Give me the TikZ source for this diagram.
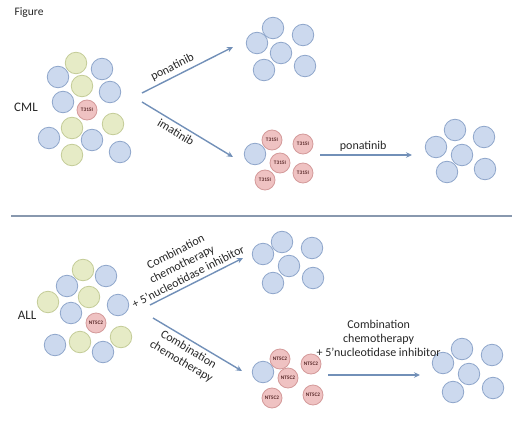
\documentclass[tikz,border=0pt]{standalone}
\usepackage{fontspec}
\setmainfont{Carlito}
\usepackage{tikz}
\usetikzlibrary{arrows.meta}
\usepackage{xcolor}
\definecolor{bfill}{HTML}{CCD9EE}
\definecolor{bline}{HTML}{8FA6CB}
\definecolor{yfill}{HTML}{E6EBC6}
\definecolor{yline}{HTML}{C4CC98}
\definecolor{rfill}{HTML}{EFC2C2}
\definecolor{rline}{HTML}{D49A9A}
\definecolor{rtext}{HTML}{5A2A2A}
\definecolor{arrcol}{HTML}{7290B8}
\definecolor{divcol}{HTML}{8898AE}

\begin{document}
\begin{tikzpicture}[x=1pt, y=-1pt,
  bcell/.style={circle, draw=bline, fill=bfill, line width=0.8pt, minimum size=21.5pt, inner sep=0pt},
  ycell/.style={circle, draw=yline, fill=yfill, line width=0.8pt, minimum size=21.5pt, inner sep=0pt},
  rcell/.style={circle, draw=rline, fill=rfill, line width=0.8pt, minimum size=20pt, inner sep=0pt, font=\fontsize{5.3}{6}\selectfont\bfseries, text=rtext},
  lbl/.style={font=\fontsize{12}{14}\selectfont, align=center, text=black!85},
  arr/.style={-{Stealth[length=6pt, width=5.5pt]}, line width=1.4pt, draw=arrcol},
  div/.style={line width=2pt, draw=divcol}
]
  \useasboundingbox (0,0) rectangle (520,431);
  \node[anchor=west, font=\fontsize{11.5}{13}\selectfont, text=black!85] (fig) at (11,13) {Figure};

  % CML panel
  \node[font=\fontsize{13}{15}\selectfont, text=black!85] (cml) at (26,107) {CML};
  \node[bcell] (c1) at (58,77) {};   \node[ycell] (c2) at (76,63) {};   \node[bcell] (c3) at (102,69) {};
  \node[ycell] (c4) at (82,86) {};   \node[bcell] (c5) at (110,92) {};  \node[bcell] (c6) at (63,102) {};
  \node[rcell] (c7) at (87,110) {T315I};
  \node[ycell] (c8) at (72,128) {};  \node[ycell] (c9) at (113,124) {}; \node[bcell] (c10) at (49,138) {};
  \node[bcell] (c11) at (92,140) {}; \node[ycell] (c12) at (72,155) {}; \node[bcell] (c13) at (120,152) {};

  \node[bcell] (p1) at (257,43) {};  \node[bcell] (p2) at (273,28) {};  \node[bcell] (p3) at (303,35) {};
  \node[bcell] (p4) at (281,53) {};  \node[bcell] (p5) at (264,70) {};  \node[bcell] (p6) at (305,66) {};

  \node[bcell] (m1) at (255,154) {};
  \node[rcell] (m2) at (272,140) {T315I}; \node[rcell] (m3) at (303,144) {T315I};
  \node[rcell] (m4) at (280,163) {T315I}; \node[rcell] (m5) at (265,180) {T315I};
  \node[rcell] (m6) at (303,173) {T315I};

  \node[bcell] (q1) at (436,147) {}; \node[bcell] (q2) at (455,130) {}; \node[bcell] (q3) at (484,137) {};
  \node[bcell] (q4) at (462,155) {}; \node[bcell] (q5) at (447,172) {}; \node[bcell] (q6) at (485,169) {};

  \coordinate (a1s) at (142,93);  \coordinate (a1e) at (233,47);
  \coordinate (a2s) at (142,102); \coordinate (a2e) at (233,157);
  \coordinate (a3s) at (320,155); \coordinate (a3e) at (412,155);
  \draw[arr] (a1s) -- node[lbl, sloped, above, pos=0.38] {ponatinib} (a1e);
  \draw[arr] (a2s) -- node[lbl, sloped, below, pos=0.42] {imatinib} (a2e);
  \draw[arr] (a3s) -- node[lbl, above, pos=0.47] {ponatinib} (a3e);

  \coordinate (dl) at (11,216); \coordinate (dr) at (512,216);
  \draw[div] (dl) -- (dr);

  % ALL panel
  \node[font=\fontsize{13}{15}\selectfont, text=black!85] (all) at (27,315) {ALL};
  \node[ycell] (n1) at (83,270) {};  \node[bcell] (n2) at (106,276) {}; \node[bcell] (n3) at (67,286) {};
  \node[ycell] (n4) at (48,302) {};  \node[ycell] (n5) at (89,297) {};  \node[bcell] (n6) at (118,305) {};
  \node[bcell] (n7) at (71,313) {};
  \node[rcell] (n8) at (96,323) {NT5C2};
  \node[bcell] (n9) at (55,345) {};  \node[ycell] (n10) at (80,342) {}; \node[ycell] (n11) at (121,337) {};
  \node[bcell] (n12) at (103,352) {};

  \node[bcell] (s1) at (263,254) {}; \node[bcell] (s2) at (282,242) {}; \node[bcell] (s3) at (312,248) {};
  \node[bcell] (s4) at (289,266) {}; \node[bcell] (s5) at (273,283) {}; \node[bcell] (s6) at (313,278) {};

  \node[bcell] (t1) at (263,372) {};
  \node[rcell] (t2) at (280,359) {NT5C2}; \node[rcell] (t3) at (311,364) {NT5C2};
  \node[rcell] (t4) at (288,378) {NT5C2}; \node[rcell] (t5) at (272,398) {NT5C2};
  \node[rcell] (t6) at (313,395) {NT5C2};

  \node[bcell] (u1) at (443,363) {}; \node[bcell] (u2) at (462,349) {}; \node[bcell] (u3) at (492,355) {};
  \node[bcell] (u4) at (469,374) {}; \node[bcell] (u5) at (453,392) {}; \node[bcell] (u6) at (493,388) {};

  \coordinate (b1s) at (150,305); \coordinate (b1e) at (243,258);
  \coordinate (b2s) at (153,318); \coordinate (b2e) at (242,371);
  \coordinate (b3s) at (328,375); \coordinate (b3e) at (420,375);
  \draw[arr] (b1s) -- node[lbl, sloped, above, pos=0.45] {Combination\\chemotherapy\\+ 5’nucleotidase inhibitor} (b1e);
  \draw[arr] (b2s) -- node[lbl, sloped, below, pos=0.45] {Combination\\chemotherapy} (b2e);
  \draw[arr] (b3s) -- node[lbl, above=14pt, pos=0.55] {Combination\\chemotherapy\\+ 5’nucleotidase inhibitor} (b3e);
\end{tikzpicture}
\end{document}
